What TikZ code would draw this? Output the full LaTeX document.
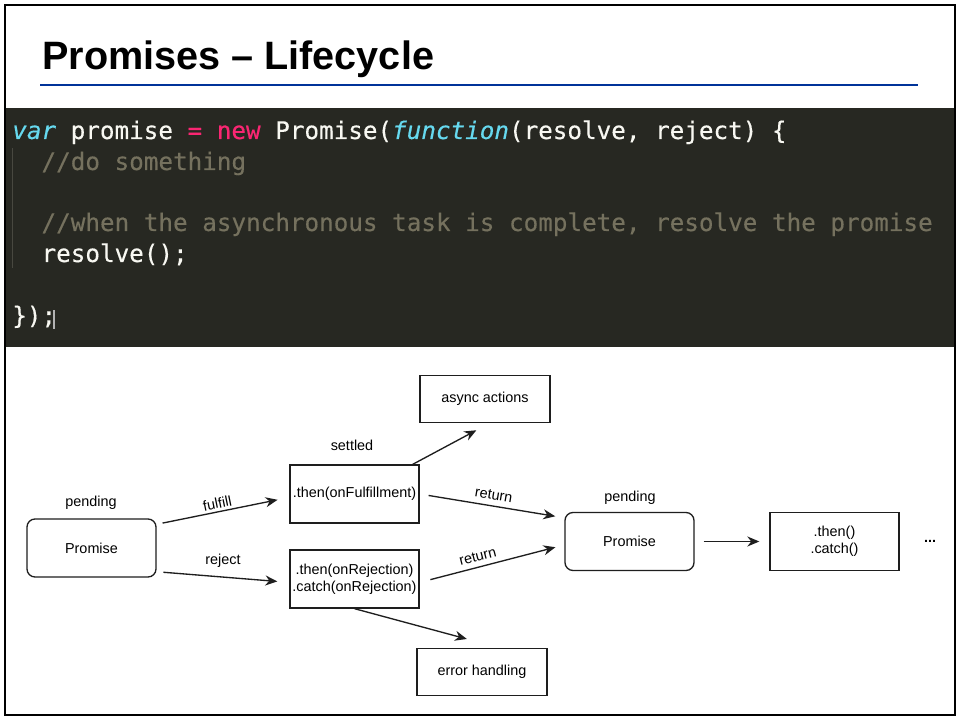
\documentclass[tikz,border=0pt]{standalone}
\usepackage{fontspec}
\setmainfont{Liberation Sans}
\setmonofont[FakeBold=0.35]{DejaVu Sans Mono}
\usepackage{xcolor}
\usetikzlibrary{arrows.meta, positioning, calc}

\definecolor{codebg}{RGB}{39,40,34}
\definecolor{codefg}{RGB}{248,248,242}
\definecolor{ccyan}{RGB}{102,217,239}
\definecolor{cpink}{RGB}{249,38,114}
\definecolor{ccomment}{RGB}{117,113,94}
\definecolor{cguide}{RGB}{72,72,64}
\definecolor{titleblue}{RGB}{0,51,153}
\definecolor{edge}{RGB}{30,30,30}

\begin{document}
\begin{tikzpicture}[x=0.75pt, y=-0.75pt,
  box/.style={rectangle, draw=edge, line width=1pt, minimum width=96.75pt, minimum height=43.5pt, align=center, inner sep=1pt, font=\fontsize{10.8}{12.75}\selectfont},
  rbox/.style={box, rounded corners=6pt},
  sbox/.style={box, minimum width=97.5pt, minimum height=35.5pt},
  arrow/.style={-{Stealth[length=9pt, width=7.5pt]}, line width=1pt, draw=edge},
  label/.style={font=\fontsize{10.8}{12}\selectfont, inner sep=2pt},
  code/.style={anchor=base west, inner sep=0pt, text=codefg, font=\ttfamily\fontsize{18.2}{22}\selectfont}
]
\useasboundingbox (0,0) rectangle (960,720);
\fill[white] (0,0) rectangle (960,720);

%% Title
\node[anchor=base west, inner sep=0pt, font=\bfseries\fontsize{29.7}{36}\selectfont] (title) at (42,70) {Promises – Lifecycle};
\draw[titleblue, line width=1.6pt] (40,85) -- (918,85);

%% Code
\fill[codebg] (5,108) rectangle (955,347);
\draw[cguide, line width=0.6pt] (12,148) -- (12,268);
\node[code] (ln1) at (12,139) {\textcolor{ccyan}{\itshape var} promise \textcolor{cpink}{=} \textcolor{cpink}{new} Promise(\textcolor{ccyan}{\itshape function}(resolve, reject) \{};
\node[code] (ln2) at (41.3,170) {\textcolor{ccomment}{//do something}};
\node[code] (ln4) at (41.3,231) {\textcolor{ccomment}{//when the asynchronous task is complete, resolve the promise}};
\node[code] (ln5) at (41.3,262) {resolve();};
\node[code] (ln7) at (12,324) {\});};
\draw[gray!60, line width=1pt] (54,310) -- (54,329);

%% Boxes
\node[rbox] (prom1) at (91.5,548) {Promise};
\node[label] (pend1) at (91,503) {pending};
\node[box] (fulbox) at (354.5,494) {.then(onFulfillment)};
\node[label] (settled) at (352,445) {settled};
\node[box] (rejbox) at (354.5,579) {.then(onRejection)\\.catch(onRejection)};
\node[sbox] (async) at (485,399) {async actions};
\node[sbox] (err) at (482,672) {error handling};
\node[rbox] (prom2) at (629.5,541.5) {Promise};
\node[label] (pend2) at (630,498) {pending};
\node[box] (next) at (834.5,541.5) {.then()\\.catch()};
\node[label, font=\bfseries\fontsize{10.8}{12}\selectfont] (dots) at (930,541) {...};

%% Arrows
\draw[arrow, shorten <=4.5pt, shorten >=9pt] (prom1.20) -- node[label, sloped, above, pos=0.47] (lfulfill) {fulfill} (fulbox.183);
\draw[arrow, shorten <=5pt, shorten >=9pt] (prom1.-20) -- node[label, above=5pt, pos=0.5] (lreject) {reject} (rejbox.183);
\draw[arrow, shorten >=11pt] (fulbox.27) -- (async.-80);
\draw[arrow, shorten <=6.75pt, shorten >=6.9pt] (fulbox.east) -- node[label, sloped, above=2pt, pos=0.5] (lret1) {return} (prom2.160);
\draw[arrow, shorten <=8.3pt, shorten >=6.9pt] (rejbox.-3) -- node[label, sloped, above=2pt, pos=0.42] (lret2) {return} (prom2.183);
\draw[arrow, shorten >=25pt] (rejbox.south) -- (err.55);
\draw[arrow, shorten <=6.75pt, shorten >=7.5pt] (prom2.east) -- (next.west);

%% Frame
\draw[black, line width=1.1pt] (5,5) rectangle (955,715);
\end{tikzpicture}
\end{document}
